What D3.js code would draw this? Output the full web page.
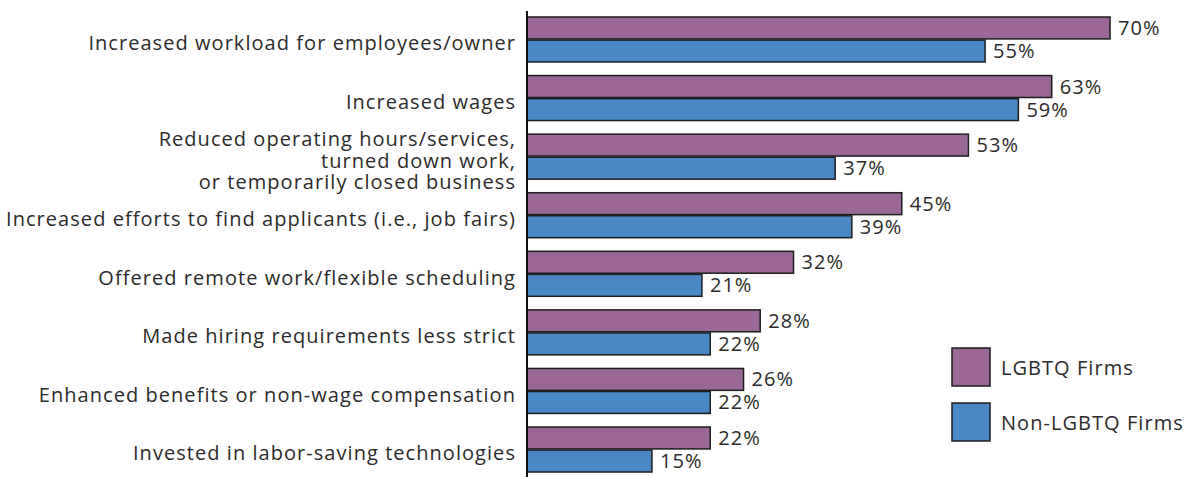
<!DOCTYPE html>
<html lang="en">
<head>
  <meta charset="UTF-8">
  <script src="https://d3js.org/d3.v7.min.js"></script>
  <style>
    body { margin: 0; background: #fff; }
    text { font-family: "Open Sans", sans-serif; fill: #2b2b2b; letter-spacing: 1.05px; }
  </style>
</head>
<body>
  <svg id="chart" width="1199" height="477"></svg>
  <script>
    // data
    var categories = [
      ["Increased workload for employees/owner"],
      ["Increased wages"],
      ["Reduced operating hours/services,", "turned down work,", "or temporarily closed business"],
      ["Increased efforts to find applicants (i.e., job fairs)"],
      ["Offered remote work/flexible scheduling"],
      ["Made hiring requirements less strict"],
      ["Enhanced benefits or non-wage compensation"],
      ["Invested in labor-saving technologies"]
    ];
    var lgbtqValues = [70, 63, 53, 45, 32, 28, 26, 22];
    var nonLgbtqValues = [55, 59, 37, 39, 21, 22, 22, 15];
    var seriesNames = ["LGBTQ Firms", "Non-LGBTQ Firms"];
    var seriesColors = ["#9a6797", "#4a87c5"];

    var svg = d3.select("#chart");

    var x = d3.scaleLinear().domain([0, 70]).range([527, 1110]);
    var y = d3.scaleBand()
      .domain(d3.range(categories.length))
      .range([17, 472])
      .paddingInner(0.232)
      .paddingOuter(0);
    var inner = d3.scaleBand().domain([0, 1]).range([0, y.bandwidth()]).paddingInner(0.05);

    var rows = categories.map(function (c, i) {
      return { label: c, vals: [lgbtqValues[i], nonLgbtqValues[i]], i: i };
    });

    var g = svg.append("g");

    var row = g.selectAll("g.row")
      .data(rows)
      .enter().append("g")
      .attr("class", "row")
      .attr("transform", function (d) { return "translate(0," + y(d.i) + ")"; });

    row.selectAll("rect")
      .data(function (d) { return d.vals; })
      .enter().append("rect")
      .attr("x", x(0))
      .attr("y", function (d, j) { return inner(j); })
      .attr("width", function (d) { return x(d) - x(0); })
      .attr("height", inner.bandwidth())
      .attr("fill", function (d, j) { return seriesColors[j]; })
      .attr("stroke", "#1e1e1e")
      .attr("stroke-width", 1.5);

    row.selectAll("text.val")
      .data(function (d) { return d.vals; })
      .enter().append("text")
      .attr("class", "val")
      .attr("x", function (d) { return x(d) + 8; })
      .attr("y", function (d, j) { return inner(j) + inner.bandwidth() / 2; })
      .attr("dy", "0.35em")
      .style("font-size", "20px")
      .text(function (d) { return d + "%"; });

    // category labels
    var lh = 21.5;
    row.append("text")
      .attr("class", "cat")
      .attr("text-anchor", "end")
      .attr("x", 516)
      .style("font-size", "20px")
      .each(function (d) {
        var t = d3.select(this);
        var n = d.label.length;
        var mid = y.bandwidth() / 2 + 4;
        d.label.forEach(function (line, k) {
          t.append("tspan")
            .attr("x", 516)
            .attr("y", mid + (k - (n - 1) / 2) * lh)
            .attr("dy", "0.35em")
            .text(line);
        });
      });

    // axis line
    svg.append("line")
      .attr("x1", x(0)).attr("x2", x(0))
      .attr("y1", 11).attr("y2", 477)
      .attr("stroke", "#111")
      .attr("stroke-width", 2);

    // legend
    var legend = svg.selectAll("g.legend")
      .data(seriesNames)
      .enter().append("g")
      .attr("class", "legend")
      .attr("transform", function (d, i) { return "translate(952," + (348 + i * 55) + ")"; });

    legend.append("rect")
      .attr("width", 38)
      .attr("height", 38)
      .attr("fill", function (d, i) { return seriesColors[i]; })
      .attr("stroke", "#1e1e1e")
      .attr("stroke-width", 1.5);

    legend.append("text")
      .attr("x", 49)
      .attr("y", 20)
      .attr("dy", "0.35em")
      .style("font-size", "20px")
      .text(function (d) { return d; });
  </script>
</body>
</html>
